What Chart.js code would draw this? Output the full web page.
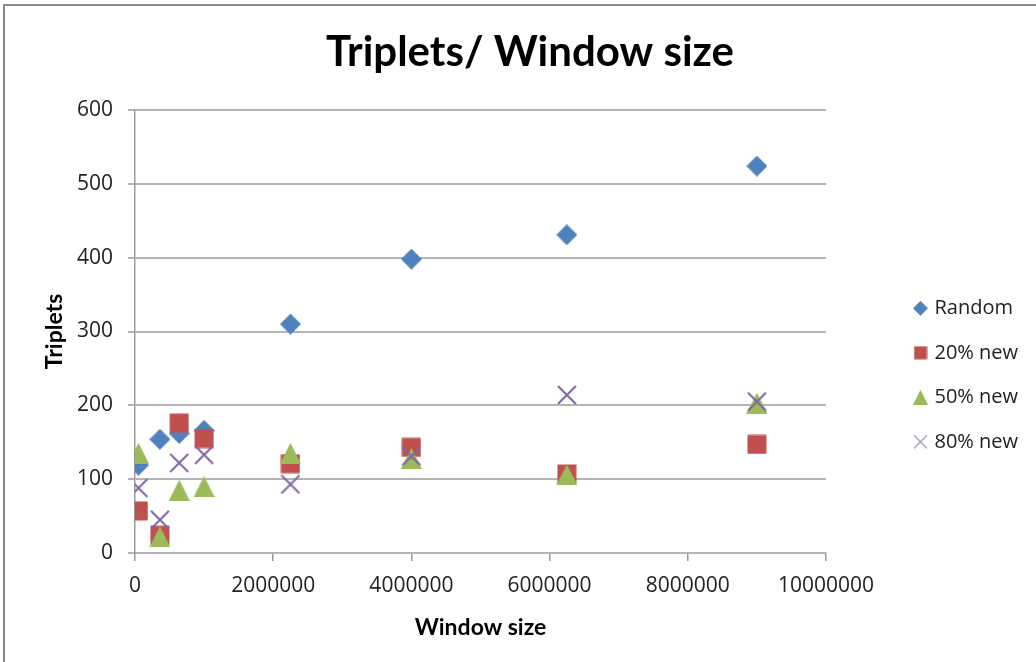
<!DOCTYPE html>
<html>
<head>
<meta charset="utf-8">
<script src="https://cdn.jsdelivr.net/npm/chart.js@4/dist/chart.umd.min.js"></script>
<style>
  html, body { margin: 0; padding: 0; background: #fff; overflow: hidden; }
  #frame { position: absolute; left: 3px; top: 4px; width: 1200px; height: 800px; border: 2px solid #8a8a8a; }
  #wrap { position: absolute; left: 0; top: 0; width: 1036px; height: 662px; }
</style>
</head>
<body>
<div id="frame"></div>
<div id="wrap"><canvas id="c" width="1036" height="662"></canvas></div>
<script>
// ---- data ----
const windowSizes = [50000, 360000, 640000, 1000000, 2250000, 4000000, 6250000, 9000000];
const seriesNames = ['Random', '20% new', '50% new', '80% new'];
const randomVals = [119, 154, 162, 166, 310, 398, 431, 524];
const new20Vals  = [57, 24, 176, 155, 121, 143, 107, 147];
const new50Vals  = [135, 22, 85, 90, 135, 128, 106, 203];
const new80Vals  = [88, 45, 122, 133, 93, 131, 214, 205];
const xTicks = [0, 2000000, 4000000, 6000000, 8000000, 10000000];
const yTicks = [0, 100, 200, 300, 400, 500, 600];

// ---- styles ----
const COLORS = ['#4F81BD', '#C0504D', '#9BBB59', '#8064A2'];
const SHAPES = ['diamond', 'square', 'triangle', 'x'];

function makeMarker(shape, size, color, lw) {
  const c = document.createElement('canvas');
  c.width = size; c.height = size;
  const g = c.getContext('2d');
  g.fillStyle = color; g.strokeStyle = color;
  const s = size;
  g.beginPath();
  if (shape === 'diamond') {
    g.moveTo(s / 2, 0); g.lineTo(s, s / 2); g.lineTo(s / 2, s); g.lineTo(0, s / 2); g.closePath(); g.fill();
  } else if (shape === 'square') {
    g.rect(0.5, 0.5, s - 1, s - 1); g.fill();
  } else if (shape === 'triangle') {
    g.moveTo(s / 2, 0); g.lineTo(s, s); g.lineTo(0, s); g.closePath(); g.fill();
  } else {
    g.lineWidth = lw || 2;
    g.moveTo(1, 1); g.lineTo(s - 1, s - 1);
    g.moveTo(s - 1, 1); g.lineTo(1, s - 1);
    g.stroke();
  }
  return c;
}
const DATA_SIZES = [21, 20, 21, 20];
const LEG_SIZES = [15, 14, 15, 15];
const dataMarkers = SHAPES.map((sh, i) => makeMarker(sh, DATA_SIZES[i], COLORS[i], 2));
const legendMarkers = SHAPES.map((sh, i) => makeMarker(sh, LEG_SIZES[i], i === 3 ? '#A08CC0' : COLORS[i], 1.2));

const seriesVals = [randomVals, new20Vals, new50Vals, new80Vals];
const datasets = seriesNames.map((name, i) => ({
  label: name,
  data: windowSizes.map((x, j) => ({ x: x, y: seriesVals[i][j] })),
  pointStyle: dataMarkers[i],
  pointRadius: 10,
  pointHoverRadius: 10,
  backgroundColor: COLORS[i],
  borderColor: COLORS[i],
  showLine: false,
  order: seriesNames.length - i
}));

const AREA = { left: 135, right: 826, top: 110, bottom: 553 };
const LEG_PAD = 24.5;
const LEG_ITEM_X = 916.5;
const LEG_FIRST_Y = 308.3;

const legendPlacer = {
  id: 'legendPlacer',
  afterInit(chart) {
    const lg = chart.legend;
    const origFit = lg.fit.bind(lg);
    lg.fit = function () { origFit(); this.width = 1036 - AREA.right; };
  },
  afterLayout(chart) {
    const lg = chart.legend;
    lg.left = LEG_ITEM_X - LEG_PAD;
    lg.top = LEG_FIRST_Y - LEG_PAD - 10;
  }
};

const tickFont = { family: 'Open Sans', size: 21 };
const titleFont = { family: 'Lato', size: 23, weight: 'bold' };

new Chart(document.getElementById('c'), {
  type: 'scatter',
  data: { datasets: datasets },
  plugins: [legendPlacer],
  options: {
    responsive: false,
    animation: false,
    events: [],
    layout: { padding: { left: 24, right: 0, top: 0, bottom: 0 } },
    plugins: {
      title: {
        display: true,
        text: 'Triplets/ Window size',
        color: '#000',
        font: { family: 'Lato', size: 42, weight: 'bold' },
        padding: { top: 27.3, bottom: 32.3 }
      },
      legend: {
        display: true,
        position: 'right',
        align: 'start',
        labels: {
          usePointStyle: true,
          boxWidth: 8,
          boxHeight: 8,
          padding: LEG_PAD,
          color: '#222',
          font: { family: 'Open Sans', size: 20 },
          sort: (a, b) => a.datasetIndex - b.datasetIndex,
          generateLabels(chart) {
            const items = Chart.defaults.plugins.legend.labels.generateLabels(chart);
            items.forEach(it => { it.pointStyle = legendMarkers[it.datasetIndex]; });
            return items;
          }
        }
      },
      tooltip: { enabled: false }
    },
    scales: {
      x: {
        type: 'linear',
        position: 'bottom',
        min: xTicks[0],
        max: xTicks[xTicks.length - 1],
        afterBuildTicks: s => { s.ticks = xTicks.map(v => ({ value: v })); },
        afterFit: s => { s.height = 662 - AREA.bottom; },
        ticks: {
          color: '#222',
          font: tickFont,
          padding: 12,
          maxRotation: 0,
          autoSkip: false,
          callback: v => String(v)
        },
        grid: { display: true, drawOnChartArea: false, drawTicks: true, tickLength: 8, color: '#9a9a9a', lineWidth: 1.5 },
        border: { display: true, color: '#b5b5b5', width: 2 },
        title: { display: true, text: 'Window size', color: '#000', font: titleFont, padding: { top: 0, bottom: 20.6 } }
      },
      y: {
        type: 'linear',
        position: 'left',
        min: yTicks[0],
        max: yTicks[yTicks.length - 1],
        afterBuildTicks: s => { s.ticks = yTicks.map(v => ({ value: v })); },
        afterFit: s => { s.width = AREA.left - 24; },
        ticks: { color: '#222', font: tickFont, padding: 15, callback: v => String(v) },
        grid: { display: true, drawOnChartArea: true, drawTicks: true, tickLength: 7, color: '#b5b5b5', lineWidth: 2, tickColor: '#9a9a9a', tickWidth: 1.5 },
        border: { display: true, color: '#9a9a9a', width: 1.5 },
        title: { display: true, text: 'Triplets', color: '#000', font: titleFont, padding: { top: 17, bottom: 0 } }
      }
    }
  }
});
</script>
</body>
</html>
